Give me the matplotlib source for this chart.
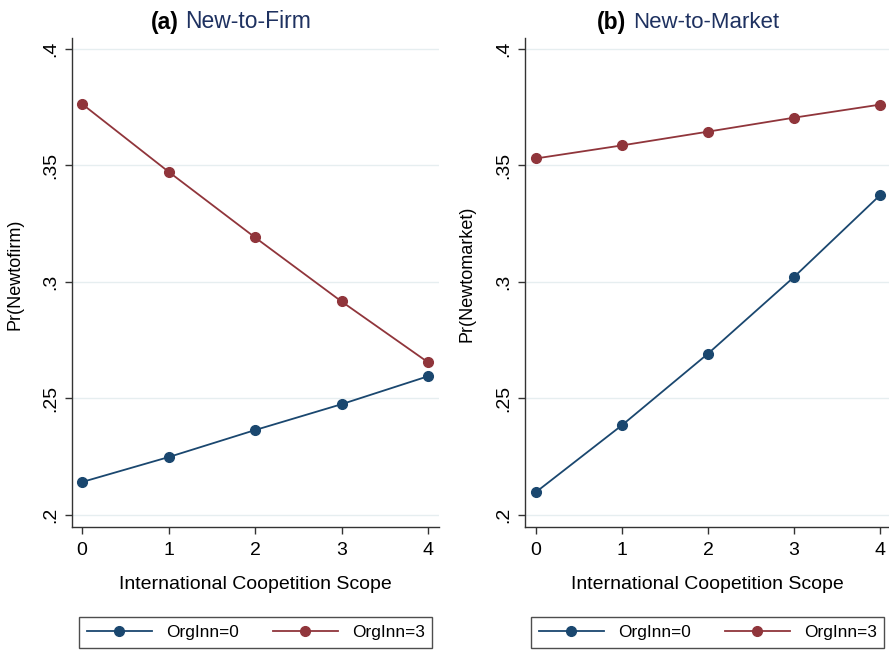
import matplotlib.pyplot as plt

plt.rcParams['font.family'] = ['Liberation Sans', 'DejaVu Sans']

# === Datos ===
scope = [0, 1, 2, 3, 4]
firm_org0 = [0.2141, 0.2248, 0.2364, 0.2475, 0.2595]
firm_org3 = [0.3764, 0.3473, 0.3191, 0.2916, 0.2655]
market_org0 = [0.2098, 0.2385, 0.2692, 0.3021, 0.3372]
market_org3 = [0.3530, 0.3586, 0.3645, 0.3705, 0.3761]
yticks = [0.2, 0.25, 0.3, 0.35, 0.4]
ytick_labels = [".2", ".25", ".3", ".35", ".4"]
series_labels = ["OrgInn=0", "OrgInn=3"]

blue = "#1a476f"
red = "#90353b"
navy_title = "#1e3160"
W, H = 889, 650
fs = 14

fig = plt.figure(figsize=(W / 100, H / 100), dpi=100)


def px(x0, y0, x1, y1):
    # caja en pixeles -> fraccion de figura [left, bottom, width, height]
    return [x0 / W, 1 - y1 / H, (x1 - x0) / W, (y1 - y0) / H]


def panel(rect, xlim, y0, y3, ylabel, ylab_x):
    ax = fig.add_axes(rect)
    ax.plot(scope, y0, color=blue, lw=1.3, marker="o", ms=7, label=series_labels[0])
    ax.plot(scope, y3, color=red, lw=1.3, marker="o", ms=7, label=series_labels[1])
    ax.set_xlim(*xlim)
    ax.set_ylim(0.1948, 0.4047)
    ax.set_xticks(scope)
    ax.set_yticks(yticks)
    ax.set_yticklabels(ytick_labels, rotation=90, va="center")
    ax.tick_params(axis="both", direction="out", length=5, width=1, labelsize=fs,
                   color="#333333")
    ax.tick_params(axis="x", pad=6)
    ax.tick_params(axis="y", pad=4)
    ax.grid(axis="y", color="#e6eef0", lw=1)
    ax.set_axisbelow(True)
    for s in ["top", "right"]:
        ax.spines[s].set_visible(False)
    for s in ["left", "bottom"]:
        ax.spines[s].set_color("#333333")
        ax.spines[s].set_linewidth(1)
    ax.set_xlabel("International Coopetition Scope", fontsize=fs, labelpad=12)
    ax.set_ylabel(ylabel, fontsize=13, va="center")
    ax.yaxis.set_label_coords(ylab_x, 0.517)
    return ax


ax1 = panel(px(72, 38, 439, 527), (-0.116, 4.127), firm_org0, firm_org3,
            "Pr(Newtofirm)", -0.155)
ax2 = panel(px(525, 38, 889, 527), (-0.128, 4.105), market_org0, market_org3,
            "Pr(Newtomarket)", -0.159)

# titulos
fig.text(179 / W, 1 - 22 / H, "(a)", fontsize=16.5, fontweight="bold", ha="right", va="center")
fig.text(185 / W, 1 - 22 / H, "New-to-Firm", fontsize=16.5, color=navy_title, ha="left", va="center")
fig.text(626 / W, 1 - 22 / H, "(b)", fontsize=16.5, fontweight="bold", ha="right", va="center")
fig.text(633 / W, 1 - 22 / H, "New-to-Market", fontsize=16, color=navy_title, ha="left", va="center")

# leyendas
for ax, x0 in [(ax1, 79), (ax2, 531)]:
    h, l = ax.get_legend_handles_labels()
    leg = fig.legend(h, l, loc="upper left", ncol=2,
                     bbox_to_anchor=(x0 / W, 1 - 617 / H),
                     borderaxespad=0, fontsize=12.4, frameon=True, fancybox=False,
                     handlelength=3.78, handletextpad=0.81, columnspacing=1.97,
                     borderpad=0.46)
    leg.get_frame().set_edgecolor("#222222")
    leg.get_frame().set_linewidth(1)

plt.savefig("out.png", dpi=100)
